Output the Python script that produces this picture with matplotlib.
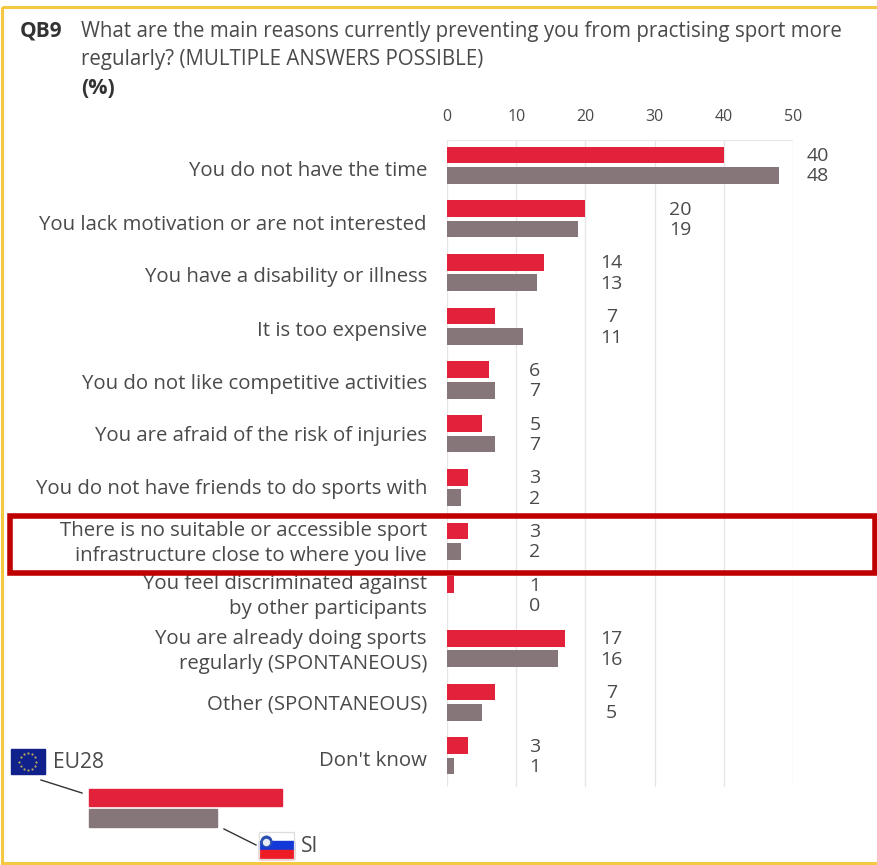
import matplotlib
matplotlib.use("Agg")
import matplotlib.pyplot as plt
from matplotlib.patches import Rectangle
import numpy as np

plt.rcParams['font.family'] = ['Open Sans', 'DejaVu Sans']

W, H = 878, 865
TEXT = '#4a4a4a'
RED = '#e2213a'
GREY = '#86767a'

reasons = [
    "You do not have the time",
    "You lack motivation or are not interested",
    "You have a disability or illness",
    "It is too expensive",
    "You do not like competitive activities",
    "You are afraid of the risk of injuries",
    "You do not have friends to do sports with",
    "There is no suitable or accessible sport\ninfrastructure close to where you live",
    "You feel discriminated against\nby other participants",
    "You are already doing sports\nregularly (SPONTANEOUS)",
    "Other (SPONTANEOUS)",
    "Don't know",
]
eu28 = [40, 20, 14, 7, 6, 5, 3, 3, 1, 17, 7, 3]
si = [48, 19, 13, 11, 7, 7, 2, 2, 0, 16, 5, 1]
ticks = [0, 10, 20, 30, 40, 50]
# x position of the value pair beside each row, in axis units
value_column = [53.6, 33.7, 23.8, 23.8, 12.7, 12.7, 12.7, 12.7, 12.7, 23.8, 23.8, 12.7]
# small vertical shifts of the row labels, in row units
label_shift = [0.10, 0.11, 0.08, 0.08, 0.07, 0.04, 0.03, 0.05, 0.04, 0.06, 0.05, 0.09]

fig = plt.figure(figsize=(W / 100, H / 100), dpi=100, facecolor='white')

# main axes, placed in pixels
left, right, top, bottom = 447, 793, 140, 787
ax = fig.add_axes([left / W, 1 - bottom / H, (right - left) / W, (bottom - top) / H])
ax.patch.set_alpha(0)
ax.set_xlim(0, 50)
row_h = 53.7
first_row = 165.2
ax.set_ylim((bottom - first_row) / row_h, (top - first_row) / row_h)

y = np.arange(len(reasons))
ax.barh(y - 0.19, eu28, height=0.31, color=RED, zorder=3)
ax.barh(y + 0.19, si, height=0.31, color=GREY, zorder=3)

for i, reason in enumerate(reasons):
    ax.text(-2.9, i + label_shift[i], reason, ha='right', va='center', fontsize=14.7,
            color=TEXT, linespacing=1.34, zorder=4)
    ax.text(value_column[i], i - 0.17, str(eu28[i]), ha='center', va='center',
            fontsize=14, color=TEXT)
    ax.text(value_column[i], i + 0.21, str(si[i]), ha='center', va='center',
            fontsize=14, color=TEXT)

ax.set_xticks(ticks)
ax.xaxis.tick_top()
ax.tick_params(axis='x', length=0, pad=11, labelsize=11.5, labelcolor=TEXT)
ax.set_yticks([])
ax.grid(axis='x', color='#e6e6e6', lw=1, zorder=0)
for s in ax.spines.values():
    s.set_visible(False)
ax.axhline((top - first_row) / row_h, color='#e6e6e6', lw=0.8)

# overlay in pixel coordinates for the header, frame and key
ov = fig.add_axes([0, 0, 1, 1], zorder=5)
ov.set_xlim(0, W)
ov.set_ylim(H, 0)
ov.axis('off')
ov.patch.set_alpha(0)

ov.add_patch(Rectangle((2, 6.5), W + 10, 856, fill=False, ec='#f5c842', lw=2.2, clip_on=True))
ov.add_patch(Rectangle((10.5, 515.5), 865, 57, fill=False, ec='#c00000', lw=4))

ov.text(20, 31, "QB9", fontsize=15, fontweight='bold', color='#333333', va='center')
ov.text(81, 32, "What are the main reasons currently preventing you from practising sport more",
        fontsize=14.8, color=TEXT, va='center')
ov.text(81, 59, "regularly? (MULTIPLE ANSWERS POSSIBLE)", fontsize=14.8, color=TEXT, va='center')
ov.text(81, 88, "(%)", fontsize=15.5, fontweight='bold', color='#333333', va='center')

# key
ov.add_patch(Rectangle((89, 789), 193, 17, color=RED))
ov.add_patch(Rectangle((89, 809), 128, 18, color=GREY))
ov.plot([41, 82], [780, 793], color='#333333', lw=1)
ov.plot([224, 256], [829, 845], color='#333333', lw=1)
ov.text(53, 763, "EU28", fontsize=15.2, color=TEXT, va='center')
ov.text(301, 846, "SI", fontsize=15.2, color=TEXT, va='center')

# EU flag
ov.add_patch(Rectangle((11, 749), 34, 25, color='#10218b'))
ang = np.linspace(0, 2 * np.pi, 12, endpoint=False)
ov.scatter(28 + 8.5 * np.cos(ang), 761.5 + 8.5 * np.sin(ang), s=2.5, color='#b9ac5a', lw=0)

# Slovenian flag
ov.add_patch(Rectangle((259, 832), 35, 9, color='white'))
ov.add_patch(Rectangle((259, 841), 35, 9, color='#1238d8'))
ov.add_patch(Rectangle((259, 850), 35, 9, color='#ee1c25'))
ov.add_patch(Rectangle((259, 832), 35, 27, fc='none', ec='#dcdcdc', lw=0.9))
ov.scatter([266], [841], s=75, marker='o', color='#2a4fb0', lw=0)
ov.scatter([266], [841.5], s=28, marker='o', color='#e8ebf5', lw=0)

fig.savefig("out.png", dpi=100)
